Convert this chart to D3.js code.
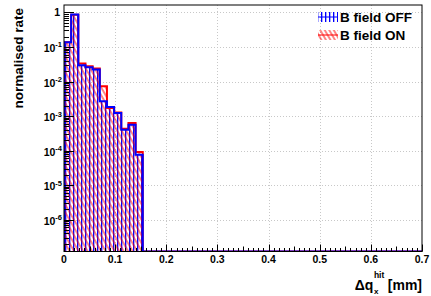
<!DOCTYPE html>
<html><head><meta charset="utf-8">
<script src="https://cdn.jsdelivr.net/npm/d3@7"></script>
<style>
html,body{margin:0;padding:0;background:#fff;}
svg{display:block;font-family:"Liberation Sans",Arial,Helvetica,sans-serif;font-weight:bold;}
</style></head>
<body>
<svg id="c" width="431" height="296"></svg>
<script>
// ---- data ----
const xRange = [0, 0.7];
const nBins = 50;
const seriesNames = ["B field OFF", "B field ON"];
const offValues = [0.137, 0.869, 0.0295, 0.0258, 0.0221, 0.00267, 0.00184, 0.00123, 0.000403, 0.000563, 0.000076,
  0,0,0,0,0,0,0,0,0,0, 0,0,0,0,0,0,0,0,0,0, 0,0,0,0,0,0,0,0,0,0, 0,0,0,0,0,0,0,0,0];
const onValues = [0.137, 0.86, 0.033, 0.0276, 0.0237, 0.00726, 0.00172, 0.00126, 0.00043, 0.00063, 0.000091,
  0,0,0,0,0,0,0,0,0,0, 0,0,0,0,0,0,0,0,0,0, 0,0,0,0,0,0,0,0,0,0, 0,0,0,0,0,0,0,0,0];
const xTicks = [0, 0.1, 0.2, 0.3, 0.4, 0.5, 0.6, 0.7];
const xTickLabels = ["0", "0.1", "0.2", "0.3", "0.4", "0.5", "0.6", "0.7"];
const yDecades = [1, 1e-1, 1e-2, 1e-3, 1e-4, 1e-5, 1e-6];
const yExponents = ["", "-1", "-2", "-3", "-4", "-5", "-6"];
const yRange = [1.2e-7, 1.64];

// ---- layout ----
const L = 64, R = 422, T = 5, B = 251.5;
const svg = d3.select("#c");
const x = d3.scaleLinear().domain(xRange).range([L, R]);
const y = d3.scaleLog().domain(yRange).range([B, T]);
const binW = (xRange[1] - xRange[0]) / nBins;

const defs = svg.append("defs");
defs.append("clipPath").attr("id", "frame").append("rect")
  .attr("x", L).attr("y", T).attr("width", R - L).attr("height", B - T);
const pv = defs.append("pattern").attr("id", "hatchV").attr("patternUnits", "userSpaceOnUse")
  .attr("width", 4).attr("height", 4);
pv.append("rect").attr("x", 1).attr("y", 0).attr("width", 1).attr("height", 4).attr("fill", "#0000ff");
pv.append("rect").attr("x", 2).attr("y", 0).attr("width", 1).attr("height", 4).attr("fill", "#aaaaff");
const pd = defs.append("pattern").attr("id", "hatchD").attr("patternUnits", "userSpaceOnUse")
  .attr("width", 3.9).attr("height", 6).attr("patternTransform", "rotate(-30)");
pd.append("line").attr("x1", 1).attr("x2", 1).attr("y1", 0).attr("y2", 6)
  .attr("stroke", "#ff0000").attr("stroke-width", 1.1).attr("stroke-opacity", 0.85);

// grid
const grid = svg.append("g").attr("stroke", "#c8c8c8").attr("stroke-width", 1).attr("stroke-dasharray", "1,2");
xTicks.slice(1, -1).forEach(v => grid.append("line")
  .attr("x1", Math.round(x(v)) + 0.5).attr("x2", Math.round(x(v)) + 0.5).attr("y1", T).attr("y2", B));
yDecades.forEach(v => grid.append("line")
  .attr("x1", L).attr("x2", R).attr("y1", Math.round(y(v)) + 0.5).attr("y2", Math.round(y(v)) + 0.5));

function histPath(vals) {
  const yb = B;
  let p = `M${x(xRange[0])},${yb}`;
  vals.forEach((v, i) => {
    const yy = v > 0 ? Math.min(y(v), yb) : yb;
    p += `L${x(xRange[0] + i * binW)},${yy}L${x(xRange[0] + (i + 1) * binW)},${yy}`;
  });
  p += `L${x(xRange[1])},${yb}`;
  return p;
}
const plot = svg.append("g").attr("clip-path", "url(#frame)");
plot.append("path").attr("d", histPath(offValues) + "Z").attr("fill", "url(#hatchV)");
plot.append("path").attr("d", histPath(onValues) + "Z").attr("fill", "url(#hatchD)");
plot.append("path").attr("d", histPath(onValues)).attr("fill", "none").attr("stroke", "#ff0000").attr("stroke-width", 2);
plot.append("path").attr("d", histPath(offValues)).attr("fill", "none").attr("stroke", "#0000ff").attr("stroke-width", 2);

// frame
svg.append("rect").attr("x", L).attr("y", T).attr("width", R - L).attr("height", B - T)
  .attr("fill", "none").attr("stroke", "#000").attr("stroke-width", 1);

// x ticks
const ax = svg.append("g").attr("stroke", "#000").attr("stroke-width", 1);
for (let k = 0; k <= 70; k++) {
  const v = k / 100;
  const len = k % 10 === 0 ? 7 : (k % 5 === 0 ? 5 : 3.5);
  const xx = Math.round(x(v)) + 0.5;
  ax.append("line").attr("x1", xx).attr("x2", xx).attr("y1", B).attr("y2", B - len);
}
svg.append("g").selectAll("text").data(xTicks).join("text")
  .attr("x", d => x(d)).attr("y", 262.5).attr("text-anchor", "middle")
  .attr("font-size", 10.5).text((d, i) => xTickLabels[i]);

// y ticks (log)
const ay = svg.append("g").attr("stroke", "#000").attr("stroke-width", 1);
for (let e = -7; e <= 0; e++) {
  for (let m = 1; m <= 9; m++) {
    const v = m * Math.pow(10, e);
    if (v < yRange[0] || v > yRange[1]) continue;
    const yy = Math.round(y(v)) + 0.5;
    ay.append("line").attr("x1", L).attr("x2", L + (m === 1 ? 10 : 5)).attr("y1", yy).attr("y2", yy);
  }
}
const yl = svg.append("g").attr("text-anchor", "end");
yDecades.forEach((v, i) => {
  if (i === 0) {
    yl.append("text").attr("x", 60).attr("y", y(v) + 4).attr("font-size", 10.5).text("1");
  } else {
    const t = yl.append("text").attr("x", 62).attr("y", y(v) + 5).attr("font-size", 10.5);
    t.append("tspan").text("10");
    t.append("tspan").attr("font-size", 7.5).attr("dy", -4.5).text(yExponents[i]);
  }
});

// axis titles
svg.append("text").attr("transform", `translate(23,8) rotate(-90)`).attr("text-anchor", "end")
  .attr("font-size", 13.5).text("normalised rate");

const xt = svg.append("g");
const tq = xt.append("text").attr("x", 0).attr("y", 290).attr("font-size", 14);
tq.append("tspan").text("\u0394q");
const wq = tq.node().getComputedTextLength();
xt.append("text").attr("x", wq + 0.5).attr("y", 293.5).attr("font-size", 8).text("x");
const th = xt.append("text").attr("x", wq + 0.5).attr("y", 278).attr("font-size", 8.5).text("hit");
const wh = th.node().getComputedTextLength();
const tm = xt.append("text").attr("x", wq + wh + 4).attr("y", 290).attr("font-size", 14).text("[mm]");
const totalW = wq + wh + 4 + tm.node().getComputedTextLength();
xt.attr("transform", `translate(${422 - totalW},0)`);

// legend
const leg = svg.append("g");
const fills = ["url(#hatchV)", "url(#hatchD)"];
const strokes = ["#0000ff", "#ff0000"];
seriesNames.forEach((n, i) => {
  const yy = 12 + i * 18;
  leg.append("rect").attr("x", 318).attr("y", yy).attr("width", 20).attr("height", 10)
    .attr("fill", fills[i]);
  leg.append("line").attr("x1", 318).attr("x2", 338).attr("y1", yy + 5).attr("y2", yy + 5)
    .attr("stroke", strokes[i]).attr("stroke-width", 1);
  leg.append("text").attr("x", 340).attr("y", yy + 9.5).attr("font-size", 13.5).text(n);
});
</script>
</body></html>
